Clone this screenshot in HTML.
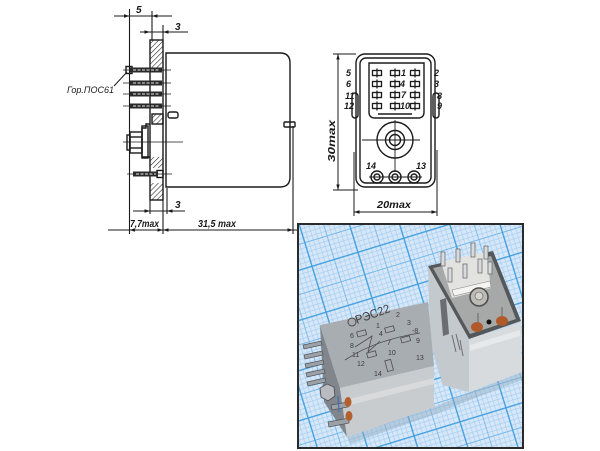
<!DOCTYPE html>
<html><head><meta charset="utf-8"><style>
html,body{margin:0;padding:0;background:#fff;}
svg{display:block}
.t{font-family:"Liberation Sans","DejaVu Sans",sans-serif;font-style:italic;fill:#1a1a1a;font-weight:bold}
.p{font-family:"Liberation Sans","DejaVu Sans",sans-serif;fill:#3a3d40}
</style></head><body>
<svg width="600" height="451" viewBox="0 0 600 451" xmlns="http://www.w3.org/2000/svg">
<defs>
<pattern id="hatch" patternUnits="userSpaceOnUse" width="3.6" height="3.6" patternTransform="rotate(45)">
<line x1="0" y1="0" x2="0" y2="3.6" stroke="#1a1a1a" stroke-width="1.1"/>
</pattern>
<pattern id="grid" patternUnits="userSpaceOnUse" width="48" height="48" patternTransform="rotate(-17 410 336)">
<rect width="48" height="48" fill="#d5e7f8"/>
<path d="M4.8 0V48M9.6 0V48M14.4 0V48M19.2 0V48M28.8 0V48M33.6 0V48M38.4 0V48M43.2 0V48M0 4.8H48M0 9.6H48M0 14.4H48M0 19.2H48M0 28.8H48M0 33.6H48M0 38.4H48M0 43.2H48" stroke="#a4ccef" stroke-width="0.6"/>
<path d="M24 0V48M0 24H48" stroke="#78b8e8" stroke-width="0.9"/>
<path d="M0.7 0V48M0 0.7H48" stroke="#44a0e0" stroke-width="1.4"/>
</pattern>
<clipPath id="pc"><rect x="299" y="225" width="223" height="222"/></clipPath>
<g id="ph"><rect x="-4.5" y="-2.5" width="9" height="5"/><line x1="0" y1="-4.5" x2="0" y2="4.5"/></g>
</defs>

<!-- ============ SIDE VIEW ============ -->
<g fill="none" stroke="#1a1a1a" stroke-width="1.4">
 <line x1="129.5" y1="9" x2="129.5" y2="234" stroke-width="1.1"/>
 <line x1="152" y1="11" x2="152" y2="40" stroke-width="1.1"/>
 <line x1="163" y1="25" x2="163" y2="40" stroke-width="1.1"/>
 <line x1="163" y1="200" x2="163" y2="234" stroke-width="1.1"/>
 <line x1="150" y1="200" x2="150" y2="214" stroke-width="1.1"/>
 <line x1="167" y1="188" x2="167" y2="214" stroke-width="1.1"/>
 <line x1="293" y1="126" x2="293" y2="234" stroke-width="1.1"/>
 <line x1="114" y1="16" x2="172" y2="16" stroke-width="1"/>
 <line x1="140" y1="32" x2="188" y2="32" stroke-width="1"/>
 <line x1="133" y1="211" x2="185" y2="211" stroke-width="1"/>
 <line x1="108" y1="230" x2="297" y2="230" stroke-width="1"/>
 <rect x="150" y="40" width="13" height="160"/>
 <path d="M166 53 H280 Q290 53 290 63 V177 Q290 187 280 187 H166 Z"/>
 <rect x="168" y="112" width="10" height="6" rx="2"/>
 <rect x="284" y="122" width="11" height="5" rx="1"/>
 <rect x="126" y="66.5" width="6" height="7"/>
 <path d="M150 124 H146 V128 H142 V157 H150"/>
 <rect x="142" y="126" width="6" height="32"/>
 <rect x="130" y="132" width="12" height="21"/>
 <line x1="130" y1="137" x2="142" y2="137"/>
 <line x1="130" y1="148" x2="142" y2="148"/>
 <rect x="127" y="135" width="3" height="15"/>
 <rect x="152" y="114" width="11" height="10"/>
 <rect x="157" y="170.5" width="6" height="7"/>
 <line x1="114" y1="86" x2="127" y2="72" stroke-width="1"/>
</g>
<g fill="url(#hatch)">
 <rect x="150" y="40" width="13" height="28"/>
 <rect x="152" y="114" width="11" height="10"/>
 <rect x="150" y="157" width="13" height="11"/>
 <rect x="150" y="183" width="13" height="17"/>
</g>
<g stroke="#1a1a1a" stroke-width="0.8">
 <line x1="123" y1="70" x2="171" y2="70"/>
 <line x1="123" y1="83" x2="171" y2="83"/>
 <line x1="123" y1="94" x2="171" y2="94"/>
 <line x1="123" y1="106" x2="171" y2="106"/>
 <line x1="123" y1="142" x2="183" y2="142"/>
 <line x1="127" y1="174" x2="172" y2="174"/>
</g>
<g fill="#2a2a2a">
 <rect x="130" y="67.5" width="32" height="5"/>
 <rect x="130" y="80.5" width="32" height="5"/>
 <rect x="130" y="91.5" width="32" height="5"/>
 <rect x="130" y="103.5" width="32" height="5"/>
 <rect x="133" y="171.5" width="25" height="5"/>
</g>
<g stroke="#e8e8e8" stroke-width="1" stroke-dasharray="3 1.5">
 <line x1="133" y1="70" x2="160" y2="70"/>
 <line x1="133" y1="83" x2="160" y2="83"/>
 <line x1="133" y1="94" x2="160" y2="94"/>
 <line x1="133" y1="106" x2="160" y2="106"/>
 <line x1="136" y1="174" x2="156" y2="174"/>
</g>
<g fill="#1a1a1a">
 <polygon points="129.5,16 124,14.3 124,17.7"/>
 <polygon points="152,16 157.5,14.3 157.5,17.7"/>
 <polygon points="150,32 144.5,30.3 144.5,33.7"/>
 <polygon points="163,32 168.5,30.3 168.5,33.7"/>
 <polygon points="150,211 144.5,209.3 144.5,212.7"/>
 <polygon points="167,211 172.5,209.3 172.5,212.7"/>
 <polygon points="129.5,230 135,228.3 135,231.7"/>
 <polygon points="163,230 157.5,228.3 157.5,231.7"/>
 <polygon points="163,230 168.5,228.3 168.5,231.7"/>
 <polygon points="293,230 287.5,228.3 287.5,231.7"/>
</g>
<text class="t" x="136" y="13" font-size="10">5</text>
<text class="t" x="175" y="30" font-size="10">3</text>
<text class="t" x="175" y="208" font-size="10">3</text>
<text class="t" x="67" y="93" font-size="9" textLength="47" lengthAdjust="spacingAndGlyphs" style="font-weight:normal">Гор.ПОС61</text>
<text class="t" x="130" y="227" font-size="10" textLength="29" lengthAdjust="spacingAndGlyphs">7,7max</text>
<text class="t" x="198" y="227" font-size="10" textLength="38" lengthAdjust="spacingAndGlyphs">31,5 max</text>

<!-- ============ FRONT VIEW ============ -->
<g fill="none" stroke="#1a1a1a" stroke-width="1.4">
 <rect x="356" y="54" width="79" height="133" rx="9"/>
 <rect x="360" y="58" width="71" height="125" rx="6"/>
 <rect x="352" y="93" width="6" height="25" rx="3"/>
 <rect x="433" y="93" width="6" height="25" rx="3"/>
 <path d="M369 63 H424 V112 Q424 118 418 118 H375 Q369 118 369 112 Z"/>
 <line x1="378" y1="114" x2="412" y2="114"/>
 <circle cx="395" cy="140" r="18"/>
 <circle cx="395" cy="140" r="9.5"/>
 <circle cx="395" cy="140" r="5.5"/>
 <circle cx="377" cy="177" r="6"/>
 <circle cx="395" cy="177" r="6"/>
 <circle cx="414" cy="177" r="6"/>
 <circle cx="377" cy="177" r="3"/>
 <circle cx="395" cy="177" r="3"/>
 <circle cx="414" cy="177" r="3"/>
 <line x1="333" y1="54" x2="356" y2="54" stroke-width="1"/>
 <line x1="333" y1="190" x2="358" y2="190" stroke-width="1"/>
 <line x1="338" y1="54" x2="338" y2="190" stroke-width="1"/>
 <line x1="354" y1="152" x2="354" y2="216" stroke-width="1"/>
 <line x1="437" y1="150" x2="437" y2="216" stroke-width="1"/>
 <line x1="354" y1="212" x2="437" y2="212" stroke-width="1"/>
</g>
<g stroke="#1a1a1a" stroke-width="0.9">
 <line x1="362" y1="140" x2="420" y2="140"/>
 <line x1="395" y1="120" x2="395" y2="172"/>
 <line x1="369" y1="177" x2="422" y2="177"/>
</g>
<g fill="none" stroke="#1a1a1a" stroke-width="1.3">
 <use href="#ph" x="377" y="73"/><use href="#ph" x="395" y="73"/><use href="#ph" x="415" y="73"/>
 <use href="#ph" x="377" y="84"/><use href="#ph" x="395" y="84"/><use href="#ph" x="415" y="84"/>
 <use href="#ph" x="377" y="95"/><use href="#ph" x="395" y="95"/><use href="#ph" x="415" y="95"/>
 <use href="#ph" x="377" y="106"/><use href="#ph" x="395" y="106"/><use href="#ph" x="415" y="106"/>
</g>
<g fill="#1a1a1a">
 <polygon points="338,54 336.3,59.5 339.7,59.5"/>
 <polygon points="338,190 336.3,184.5 339.7,184.5"/>
 <polygon points="354,212 359.5,210.3 359.5,213.7"/>
 <polygon points="437,212 431.5,210.3 431.5,213.7"/>
</g>
<g class="t" font-size="9">
 <text x="401" y="76">1</text>
 <text x="400" y="87">4</text>
 <text x="401" y="98">7</text>
 <text x="400" y="109">10</text>
 <text x="346" y="76">5</text>
 <text x="346" y="87">6</text>
 <text x="345" y="99">11</text>
 <text x="344" y="109">12</text>
 <text x="434" y="76">2</text>
 <text x="434" y="87">3</text>
 <text x="437" y="99">8</text>
 <text x="437" y="109">9</text>
 <text x="366" y="169">14</text>
 <text x="416" y="169">13</text>
</g>
<text class="t" x="377" y="208" font-size="10" textLength="34" lengthAdjust="spacingAndGlyphs">20max</text>
<text class="t" transform="translate(335 162) rotate(-90)" x="0" y="0" font-size="10" textLength="42" lengthAdjust="spacingAndGlyphs">30max</text>

<!-- ============ PHOTO ============ -->
<g clip-path="url(#pc)">
 <rect x="299" y="225" width="223" height="222" fill="url(#grid)"/>
 <polygon points="347,437 434,407 470,392 522,372 522,380 470,400 436,414 350,444" fill="#8fa9bf" opacity="0.45"/>
 <!-- right relay -->
 <polygon points="428,266 469,339 469,392 443,385 430,340" fill="#c4c9cd"/>
 <polygon points="469,339 521,322 522,372 469,392" fill="#d8dbde"/>
 <polygon points="470,345 520,330 520,336 470,351" fill="#e6e8ea"/>
 <polygon points="440,300 446,298 449,334 443,336" fill="#6a6e73"/>
 <g stroke="#6a6e72" stroke-width="1">
  <line x1="452" y1="335" x2="456" y2="352"/><line x1="456" y1="334" x2="460" y2="350"/><line x1="460" y1="340" x2="463" y2="356"/>
 </g>
 <polygon points="428,266 493,251 521,321 469,339" fill="#55585a"/>
 <polygon points="433,268 491,256 516,319 470,334" fill="#a7a9a8"/>
 <polygon points="441,262 486,252 491,288 452,298" fill="#e2e2e0"/>
 <polygon points="452,290 490,281 491,287 454,296" fill="#f4f4f2" stroke="#888" stroke-width="0.6"/>
 <g fill="#d9dadb" stroke="#5e6164" stroke-width="0.7">
  <rect x="441" y="252" width="4" height="14"/>
  <rect x="456" y="249" width="4" height="13"/>
  <rect x="471" y="243" width="4" height="14"/>
  <rect x="484" y="246" width="4" height="13"/>
  <rect x="448" y="268" width="4" height="14"/>
  <rect x="463" y="264" width="4" height="14"/>
  <rect x="478" y="259" width="4" height="14"/>
  <rect x="488" y="262" width="4" height="12"/>
 </g>
 <circle cx="479" cy="297" r="9" fill="#bdbcb4" stroke="#4f5052" stroke-width="1.6"/>
 <circle cx="479" cy="296" r="4" fill="#d4d4cc" stroke="#777" stroke-width="0.8"/>
 <line x1="478" y1="313" x2="478" y2="323" stroke="#555" stroke-width="0.8"/>
 <line x1="502" y1="307" x2="502" y2="317" stroke="#555" stroke-width="0.8"/>
 <ellipse cx="477" cy="327" rx="6" ry="5" fill="#b0592b"/>
 <ellipse cx="502" cy="321" rx="6" ry="5" fill="#b0592b"/>
 <circle cx="489" cy="322" r="2.5" fill="#111"/>

 <!-- left relay -->
 <polygon points="320,325 340,388 347,437 324,402" fill="#80868c"/>
 <polygon points="320,325 428,302 434,366 340,388" fill="#a8adb1"/>
 <polygon points="340,388 434,366 434,407 347,437" fill="#c9ccce"/>
 <polygon points="345,400 434,378 434,384 346,406" fill="#d8dadc"/>
 <circle cx="352" cy="322" r="4" fill="none" stroke="#444" stroke-width="0.9"/>
 <text class="p" transform="translate(357 324) rotate(-20)" font-size="12" textLength="36" lengthAdjust="spacingAndGlyphs">РЭС22</text>
 <g class="p" font-size="7">
  <text x="376" y="328">1</text><text x="396" y="317">2</text><text x="407" y="325">3</text>
  <text x="350" y="338">6</text><text x="379" y="336">4</text><text x="412" y="333">-8</text>
  <text x="350" y="348">8</text><text x="387" y="345">7</text><text x="416" y="343">9</text>
  <text x="352" y="357">11</text><text x="357" y="366">12</text><text x="388" y="355">10</text><text x="416" y="360">13</text>
  <text x="374" y="376">14</text>
 </g>
 <g fill="none" stroke="#4a4d50" stroke-width="0.8">
  <rect x="357" y="331" width="9" height="5" transform="rotate(-15 361 333)"/>
  <rect x="385" y="327" width="9" height="5" transform="rotate(-15 389 329)"/>
  <rect x="401" y="337" width="9" height="5" transform="rotate(-15 405 339)"/>
  <rect x="367" y="352" width="9" height="5" transform="rotate(-15 371 354)"/>
  <rect x="386" y="360" width="6" height="11" transform="rotate(-15 389 365)"/>
  <path d="M355 347 L372 336 L368 352 L380 341"/>
  <path d="M345 360 Q375 340 420 333"/>
 </g>
 <g fill="#9ba1a7" stroke="#4e5358" stroke-width="0.7">
  <polygon points="303,345 321,341 322,345 304,349"/>
  <polygon points="304,355 322,351 323,355 305,359"/>
  <polygon points="305,364 323,360 324,364 306,368"/>
  <polygon points="306,373 324,369 325,373 307,377"/>
  <polygon points="307,382 325,378 326,382 308,386"/>
  <polygon points="331,405 348,402 348,407 332,410"/>
  <polygon points="328,422 349,418 349,423 329,427"/>
 </g>
 <polygon points="320,388 327,384 334,387 335,396 328,401 321,397" fill="#b8bcc0" stroke="#4f5358" stroke-width="0.9"/>
 <ellipse cx="348" cy="402" rx="3.5" ry="5" fill="#b2602e"/>
 <ellipse cx="349" cy="416" rx="3.5" ry="5" fill="#b2602e"/>
 <line x1="338" y1="396" x2="339" y2="412" stroke="#3f6fb0" stroke-width="1.2"/>
</g>
<rect x="298" y="224" width="225" height="224" fill="none" stroke="#2b2b2b" stroke-width="2"/>
</svg>
</body></html>
